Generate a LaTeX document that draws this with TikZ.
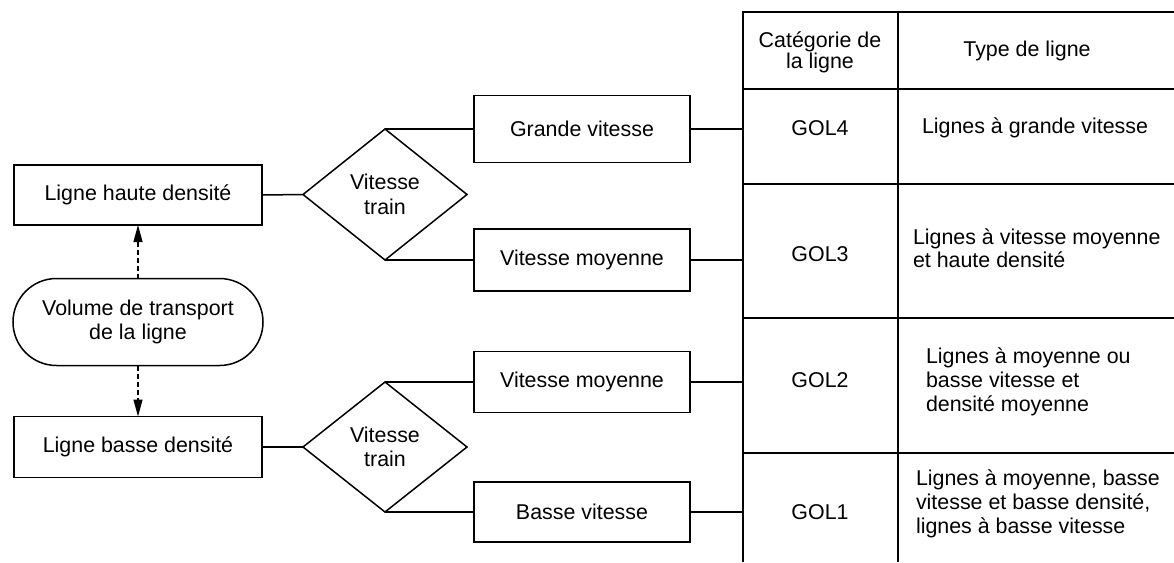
\documentclass[tikz,border=0pt]{standalone}
\usepackage{fontspec}
\setmainfont{Liberation Sans}
\usetikzlibrary{shapes.geometric,shapes.misc,arrows.meta}

\begin{document}
\begin{tikzpicture}[x=1pt,y=-1pt,line width=1.5pt,
  txt/.style={font=\fontsize{21.4}{24.5}\selectfont,align=center,inner sep=0pt,outer sep=0pt},
  leftbox/.style={txt,draw,rectangle,minimum width=248pt,minimum height=60pt},
  speedbox/.style={txt,draw,rectangle,minimum width=216pt,minimum height=61pt},
  decision/.style={txt,draw,diamond,minimum width=164pt,minimum height=131pt},
  terminal/.style={txt,draw,rounded rectangle,minimum width=250pt,minimum height=87pt},
  cell/.style={txt},
  celltext/.style={txt,align=left,anchor=west},
  dasharrow/.style={line width=1.3pt,dash pattern=on 5pt off 3pt,-{Triangle[length=17pt,width=9pt]}}
]
\useasboundingbox (0,0) rectangle (1174,562);

% left column: density
\node[leftbox] (lhd) at (138,195) {Ligne haute densité};
\node[terminal] (vol) at (138,322) {Volume de transport\\de la ligne};
\node[leftbox,minimum height=61pt] (lbd) at (138,447) {Ligne basse densité};

\draw[dasharrow] (vol.north) -- (lhd.south);
\draw[dasharrow] (vol.south) -- (lbd.north);

% decisions on train speed
\node[decision] (d1) at (385,194.5) {Vitesse\\train};
\node[decision,minimum height=130pt] (d2) at (385,447) {Vitesse\\train};

% speed classes
\node[speedbox,minimum height=67pt] (gv) at (582,129) {Grande vitesse};
\node[speedbox,minimum height=62pt] (vm1) at (582,260) {Vitesse moyenne};
\node[speedbox] (vm2) at (582,382) {Vitesse moyenne};
\node[speedbox,minimum height=60pt] (bv) at (582,512) {Basse vitesse};

\draw (lhd.east) -- (d1.west);
\draw (lbd.east) -- (d2.west);
\draw (d1.north) -- (gv.west);
\draw (d1.south) -- (vm1.west);
\draw (d2.north) -- (vm2.west);
\draw (d2.south) -- (bv.west);

% table of line categories
\coordinate (tl) at (743,12);
\coordinate (tm) at (898,12);
\coordinate (tr) at (1174,12);
\coordinate (bl) at (743,562);
\coordinate (bm) at (898,562);

\draw (bl) -- (tl) -- (tr);
\draw (tm) -- (bm);
\foreach \yy in {89,184,318,453}
  \draw (743,\yy) -- (1174,\yy);

\draw (gv.east) -- (gv.east -| tl);
\draw (vm1.east) -- (vm1.east -| tl);
\draw (vm2.east) -- (vm2.east -| tl);
\draw (bv.east) -- (bv.east -| tl);

\node[cell,font=\fontsize{21.4}{21}\selectfont] (hcat) at (820,52) {Catégorie de\\la ligne};
\node[cell] (htype) at (1027,51) {Type de ligne};

\node[cell] (g4) at (820,128) {GOL4};
\node[cell] (g3) at (820,254) {GOL3};
\node[cell] (g2) at (820,380) {GOL2};
\node[cell] (g1) at (820,512) {GOL1};

\node[celltext] (t4) at (922,128) {Lignes à grande vitesse};
\node[celltext,font=\fontsize{21.4}{22.5}\selectfont] (t3) at (913,248) {Lignes à vitesse moyenne\\et haute densité};
\node[celltext,font=\fontsize{21.4}{24}\selectfont] (t2) at (926,382) {Lignes à moyenne ou\\basse vitesse et\\densité moyenne};
\node[celltext,font=\fontsize{21.4}{24}\selectfont] (t1) at (916,504) {Lignes à moyenne, basse\\vitesse et basse densité,\\lignes à basse vitesse};
\end{tikzpicture}
\end{document}
